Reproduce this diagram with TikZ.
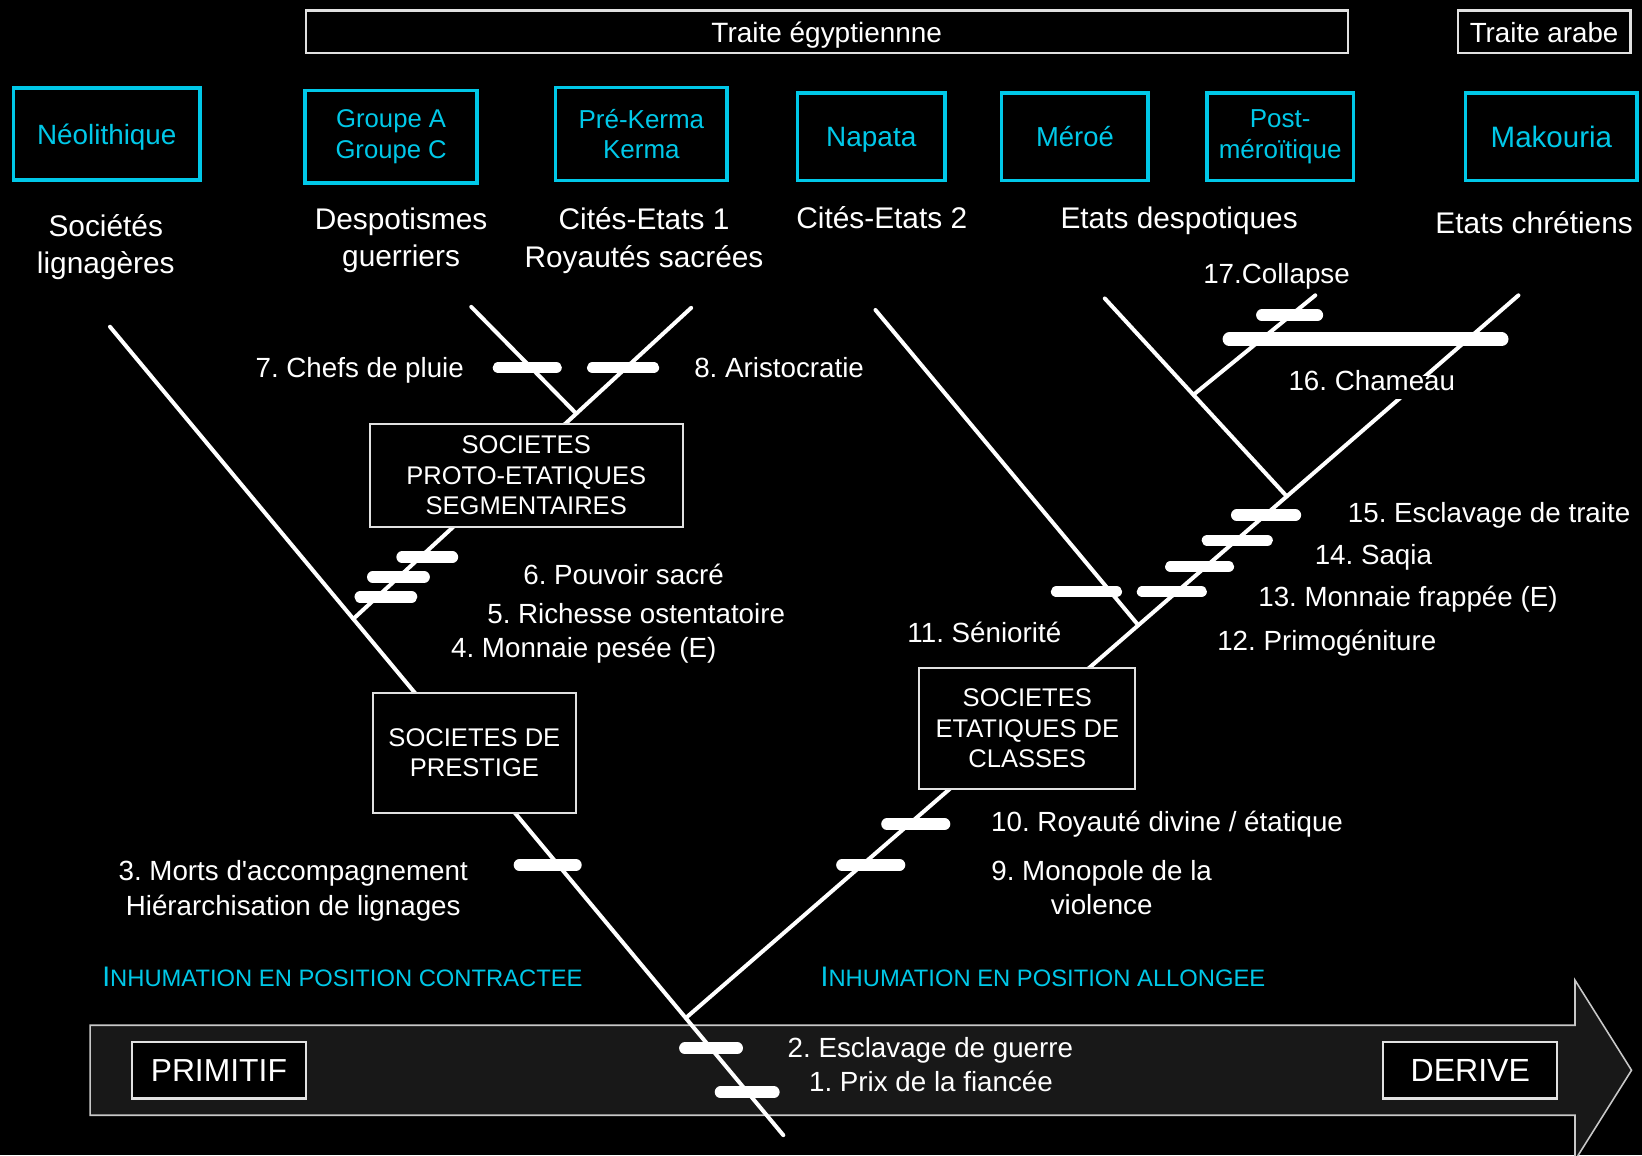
\documentclass[tikz,border=0pt]{standalone}
\usepackage{fontspec}
\setmainfont{Liberation Sans}[Ligatures=TeXOff]
\definecolor{cy}{RGB}{0,200,232}
\definecolor{arrowfill}{RGB}{24,24,24}
\definecolor{arrowline}{RGB}{200,200,200}
\definecolor{boxline}{RGB}{225,225,225}
\newcommand{\fs}[1]{\fontsize{#1}{1.2\dimexpr#1pt\relax}\selectfont}
\newcommand{\lowr}[2]{\raisebox{-#1pt}[\height][\depth]{#2}}
\begin{document}
\frenchspacing
\begin{tikzpicture}[x=1pt,y=-1pt,
  branch/.style={draw=white, line width=3.8pt},
  tickbar/.style={draw=white, line width=11pt, line cap=round},
  wbox/.style={draw=boxline, line width=2pt, fill=black, text=white, inner sep=0pt, align=center},
  cybox/.style={draw=cy, line width=3.5pt, fill=black, text=cy, inner sep=0pt, align=center},
  one/.style={text=white, inner sep=0pt, text height=0.72em, text depth=0.2em, yshift=-7pt},
  multi/.style={text=white, inner sep=0pt, align=center, yshift=-3pt},
  lbl/.style={one, font=\fontsize{26.5}{33}\selectfont},
  lblm/.style={multi, font=\fontsize{26.5}{33}\selectfont},
  desc/.style={one, font=\fontsize{28.5}{36}\selectfont},
  descm/.style={multi, font=\fontsize{28.5}{36}\selectfont},
  boxtxt/.style={font=\fontsize{24.4}{29}\selectfont},
  inhum/.style={text=cy, inner sep=0pt, text height=0.72em, text depth=0.2em, yshift=-7pt}
]
\useasboundingbox (0,0) rectangle (1568,1103);
\fill[black] (0,0) rectangle (1568,1103);
\clip (0,0) rectangle (1568,1103);

% ---- bottom arrow
\draw[draw=arrowline, fill=arrowfill, line width=1.5pt]
  (86,979) -- (1504,979) -- (1504,936) -- (1558,1022) -- (1504,1108) -- (1504,1065) -- (86,1065) -- cycle;

% ---- coordinates of the tree
\coordinate (L0) at (105,312);
\coordinate (L1) at (748,1084);
\coordinate (J0) at (655,972);
\coordinate (R1) at (1450,282);
\coordinate (P0) at (337.4,591);
\coordinate (P1) at (660,294);
\coordinate (A0) at (450,293);
\coordinate (A1) at (550.3,395);
\coordinate (S0) at (836,296);
\coordinate (S1) at (1087,597);
\coordinate (U0) at (1055,285);
\coordinate (U1) at (1228.8,474);
\coordinate (C0) at (1139.6,377);
\coordinate (C1) at (1256,282);

\draw[branch, line cap=round] (L0) -- (L1);
\draw[branch, line cap=round] (J0) -- (R1);
\draw[branch, line cap=round] (P0) -- (P1);
\draw[branch, line cap=round] (A0) -- (A1);
\draw[branch, line cap=round] (S0) -- (S1);
\draw[branch, line cap=round] (U0) -- (U1);
\draw[branch, line cap=round] (C0) -- (C1);

% ---- ticks
\draw[tickbar] (476,351) -- (531,351);   % 7
\draw[tickbar] (566,351) -- (624,351);   % 8
\draw[tickbar] (384,532) -- (432,532);   % 6
\draw[tickbar] (356,551) -- (405,551);   % 5
\draw[tickbar] (344,570) -- (393,570);   % 4
\draw[tickbar] (496,826) -- (550,826);   % 3
\draw[tickbar] (654,1001) -- (704,1001); % 2
\draw[tickbar] (688,1043) -- (739,1043); % 1
\draw[tickbar] (847,787) -- (902,787);   % 10
\draw[tickbar] (804,826) -- (859,826);   % 9
\draw[tickbar] (1009,565) -- (1066,565); % 11
\draw[tickbar] (1091,565) -- (1147,565); % 12
\draw[tickbar] (1118,541) -- (1173,541); % 13
\draw[tickbar] (1153,516) -- (1210,516); % 14
\draw[tickbar] (1181,492) -- (1237,492); % 15
\draw[tickbar] (1205,301) -- (1258,301); % 17
\draw[tickbar, line width=13pt] (1174,324) -- (1434,324); % 16

% ---- top white boxes
\node[wbox, minimum width=995pt, minimum height=41pt, font=\fs{26.7}] (egy) at (789.5,30.5) {\lowr{3}{Traite égyptiennne}};
\node[wbox, minimum width=165pt, minimum height=41pt, font=\fs{26.5}] (arab) at (1474.5,30.5) {\lowr{1}{Traite arabe}};

% ---- cyan period boxes
\node[cybox, minimum width=178pt, minimum height=88pt, font=\fs{26.6}] (neo) at (102,128) {\lowr{3}{Néolithique}};
\node[cybox, minimum width=164pt, minimum height=88pt, font=\fontsize{24.5}{29}\selectfont] (grp) at (373.5,130.5) {Groupe A\\Groupe C};
\node[cybox, minimum width=164pt, minimum height=89pt, font=\fontsize{24.8}{29}\selectfont] (ker) at (612.5,128) {Pré-Kerma\\Kerma};
\node[cybox, minimum width=141pt, minimum height=84pt, font=\fs{26.7}] (nap) at (832,130.5) {\lowr{3}{Napata}};
\node[cybox, minimum width=140pt, minimum height=84pt, font=\fs{26.2}] (mer) at (1026.5,130.5) {Méroé};
\node[cybox, minimum width=140pt, minimum height=84pt, font=\fontsize{24.8}{29}\selectfont] (post) at (1222.5,130.5) {Post-\\méroïtique};
\node[cybox, minimum width=164pt, minimum height=84pt, font=\fs{28.2}] (mak) at (1481.5,130.5) {Makouria};

% ---- descriptions
\node[descm] (d1) at (101,233) {Sociétés\\lignagères};
\node[descm] (d2) at (383,226.5) {Despotismes\\guerriers};
\node[descm] (d3) at (615,226.5) {Cités-Etats 1\\Royautés sacrées};
\node[desc] (d4) at (842,209) {Cités-Etats 2};
\node[desc] (d5) at (1126,209) {Etats despotiques};
\node[desc] (d6) at (1465,213) {Etats chrétiens};

% ---- society boxes
\node[wbox, boxtxt, minimum width=299pt, minimum height=98pt] (proto) at (502.5,454) {SOCIETES\\PROTO-ETATIQUES\\SEGMENTAIRES};
\node[wbox, boxtxt, minimum width=194pt, minimum height=114pt] (prest) at (453,719) {SOCIETES DE\\PRESTIGE};
\node[wbox, boxtxt, minimum width=206pt, minimum height=115pt] (etat) at (981,695.5) {SOCIETES\\ETATIQUES DE\\CLASSES};
\node[wbox, minimum width=166pt, minimum height=54pt, font=\fs{30.4}] (prim) at (209,1022) {PRIMITIF};
\node[wbox, minimum width=166pt, minimum height=54pt, font=\fs{30.6}] (der) at (1404,1022) {DERIVE};

% ---- numbered labels
\node[lbl] (n17) at (1219,261) {17.Collapse};
\node[lbl, fill=black, inner xsep=4pt, inner ysep=6pt] (n16) at (1310,363) {16. Chameau};
\node[lbl] (n15) at (1422,489) {15. Esclavage de traite};
\node[lbl] (n14) at (1311.5,529) {14. Saqia};
\node[lbl] (n13) at (1344.5,570) {13. Monnaie frappée (E)};
\node[lbl] (n12) at (1267,612) {12. Primogéniture};
\node[lbl] (n11) at (940,604) {11. Séniorité};
\node[lbl] (n10) at (1114.5,784) {10. Royauté divine / étatique};
\node[lblm, yshift=3pt] (n9) at (1052,847.5) {9. Monopole de la\\violence};
\node[lbl] (n7) at (343.5,351) {7. Chefs de pluie};
\node[lbl] (n8) at (744,351) {8. Aristocratie};
\node[lbl] (n6) at (595.5,549) {6. Pouvoir sacré};
\node[lbl] (n5) at (607.5,586) {5. Richesse ostentatoire};
\node[lbl] (n4) at (557.5,618) {4. Monnaie pesée (E)};
\node[lblm] (n3) at (280,847.5) {3. Morts d'accompagnement\\Hiérarchisation de lignages};
\node[lbl] (n2) at (888.5,1000) {2. Esclavage de guerre};
\node[lbl] (n1) at (889,1033) {1. Prix de la fiancée};

% ---- burial labels
\node[inhum] (ic) at (327,932) {{\fontsize{27}{30}\selectfont I}{\fontsize{22.7}{30}\selectfont NHUMATION EN POSITION CONTRACTEE}};
\node[inhum] (ia) at (996,932) {{\fontsize{27}{30}\selectfont I}{\fontsize{22.7}{30}\selectfont NHUMATION EN POSITION ALLONGEE}};
\end{tikzpicture}
\end{document}
